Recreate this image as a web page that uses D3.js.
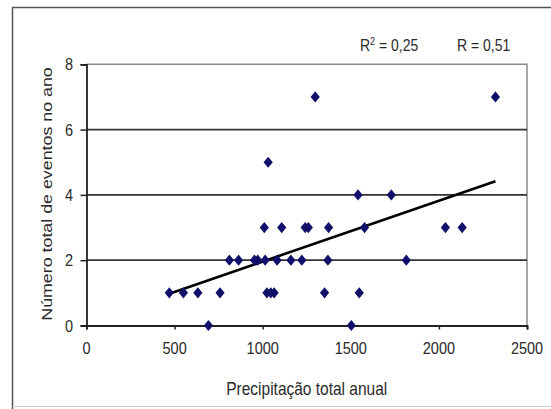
<!DOCTYPE html>
<html>
<head>
<meta charset="utf-8">
<script src="https://cdn.jsdelivr.net/npm/d3@7"></script>
<style>
  html, body { margin: 0; padding: 0; background: #fff; }
  svg { display: block; }
  text { font-family: "Liberation Sans", Arial, sans-serif; fill: #2a2a2a; }
</style>
</head>
<body>
<svg id="chart" width="551" height="409"></svg>
<script>
// ---- data ----
const precipitacao = [692, 1503,
  470, 550, 632, 758, 1024, 1046, 1065, 1351, 1548,
  811, 863, 953, 972, 1014, 1082, 1160, 1222, 1370, 1815,
  1009, 1108, 1241, 1259, 1374, 1578, 2037, 2132,
  1541, 1730,
  1031,
  1298, 2321];
const eventos = [0, 0,
  1, 1, 1, 1, 1, 1, 1, 1, 1,
  2, 2, 2, 2, 2, 2, 2, 2, 2, 2,
  3, 3, 3, 3, 3, 3, 3, 3,
  4, 4,
  5,
  7, 7];
const xTicks = [0, 500, 1000, 1500, 2000, 2500];
const yTicks = [0, 2, 4, 6, 8];
const trendIntercept = 0.10;
const trendSlope = 0.00186;
const r2Label = "0,25";
const rLabel = "0,51";
const xTitle = "Precipitação total anual";
const yTitle = "Número total de eventos no ano";

// ---- layout ----
const svg = d3.select("#chart");
const plot = { left: 86.5, right: 527, top: 64.3, bottom: 325.5 };
const x = d3.scaleLinear().domain([0, 2500]).range([plot.left, plot.right]);
const y = d3.scaleLinear().domain([0, 8]).range([plot.bottom, plot.top]);
const sy = 1.15; // vertical stretch of the original picture

// outer frame
svg.append("path")
  .attr("d", `M12.5,409 L12.5,7.5 L551,7.5`)
  .attr("fill", "none").attr("stroke", "#555").attr("stroke-width", 1.5);
svg.append("line").attr("x1", 12.5).attr("x2", 551).attr("y1", 406.5).attr("y2", 406.5)
  .attr("stroke", "#ccc").attr("stroke-width", 1);

// plot border (top + right)
svg.append("path")
  .attr("d", `M${plot.left},${plot.top} L${plot.right},${plot.top} L${plot.right},${plot.bottom}`)
  .attr("fill", "none").attr("stroke", "#8a8a8a").attr("stroke-width", 1.5);

// gridlines
svg.append("g").selectAll("line").data(yTicks.filter(d => d > 0 && d < 8)).join("line")
  .attr("x1", plot.left).attr("x2", plot.right)
  .attr("y1", d => y(d)).attr("y2", d => y(d))
  .attr("stroke", "#333").attr("stroke-width", 1.8);

// y axis
const yAxis = svg.append("g").attr("transform", `translate(${plot.left},0)`)
  .call(d3.axisLeft(y).tickValues(yTicks).tickSize(6).tickFormat(""));
yAxis.select(".domain").attr("stroke", "#222").attr("stroke-width", 1.8);
yAxis.selectAll(".tick line").attr("stroke", "#222").attr("stroke-width", 1.5);

// x axis
const xAxis = svg.append("g").attr("transform", `translate(0,${plot.bottom})`)
  .call(d3.axisBottom(x).tickValues(xTicks).tickSize(4).tickFormat(""));
xAxis.select(".domain").attr("stroke", "#222").attr("stroke-width", 1.8);
xAxis.selectAll(".tick line").attr("stroke", "#222").attr("stroke-width", 1.5);

// tick labels
function label(g, tx, ty, txt, size, anchor) {
  return g.append("text")
    .attr("transform", `translate(${tx},${ty}) scale(1,${sy})`)
    .attr("text-anchor", anchor)
    .style("font-size", size + "px")
    .text(txt);
}
const labels = svg.append("g");
yTicks.forEach(d => label(labels, 73, y(d) + 6, d3.format("d")(d), 14.5, "end"));
xTicks.forEach(d => label(labels, x(d), 354, d3.format("d")(d), 14.5, "middle"));

// axis titles
label(labels, (plot.left + plot.right) / 2, 395, xTitle, 15.5, "middle");
svg.append("text")
  .attr("transform", `translate(52,194) rotate(-90) scale(${sy},1)`)
  .attr("text-anchor", "middle")
  .style("font-size", "15.5px")
  .text(yTitle);

// R labels
const rt = svg.append("text")
  .attr("transform", `translate(360,51) scale(1,${sy})`)
  .style("font-size", "14px");
rt.append("tspan").text("R");
rt.append("tspan").attr("dy", -5).style("font-size", "9px").text("2");
rt.append("tspan").attr("dy", 5).text(" = " + r2Label);
label(labels, 457, 51, "R = " + rLabel, 14, "start");

// trend line
const xMin = d3.min(precipitacao), xMax = d3.max(precipitacao);
svg.append("line")
  .attr("x1", x(xMin)).attr("y1", y(trendIntercept + trendSlope * xMin))
  .attr("x2", x(xMax)).attr("y2", y(trendIntercept + trendSlope * xMax))
  .attr("stroke", "#000").attr("stroke-width", 2.6);

// points (diamonds)
const diamond = { draw(ctx, size) { const w = 4.6, h = 5.6; ctx.moveTo(0, -h); ctx.lineTo(w, 0); ctx.lineTo(0, h); ctx.lineTo(-w, 0); ctx.closePath(); } };
const pts = precipitacao.map((p, i) => ({ p, e: eventos[i] }));
svg.append("g").selectAll("path").data(pts).join("path")
  .attr("d", d3.symbol().type(diamond))
  .attr("transform", d => `translate(${x(d.p)},${y(d.e)})`)
  .attr("fill", "#10106a");
</script>
</body>
</html>
